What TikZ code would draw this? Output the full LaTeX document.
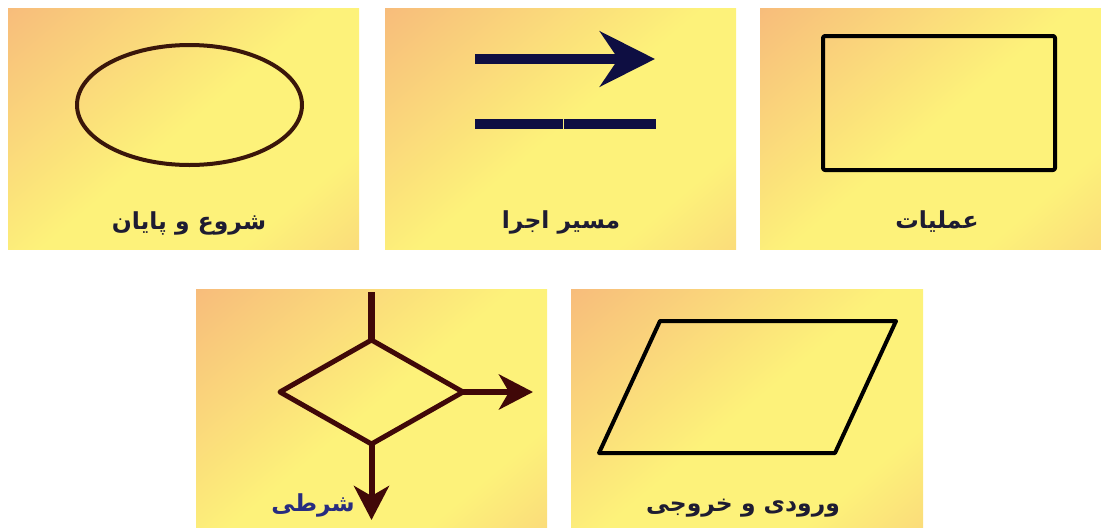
\documentclass[tikz,border=0pt]{standalone}
\usepackage{fontspec}
\newfontfamily\farsi[Script=Arabic]{DejaVu Sans}
\TeXXeTstate=1
\usetikzlibrary{arrows.meta,shapes.geometric,positioning}

\definecolor{panelorange}{RGB}{245,166,124}
\definecolor{panelyellow}{RGB}{253,242,122}
\definecolor{panelpeach}{RGB}{248,196,122}
\definecolor{inkbrown}{RGB}{58,22,10}
\definecolor{inknavy}{RGB}{14,14,66}
\definecolor{inkmaroon}{RGB}{64,8,8}
\definecolor{captionink}{RGB}{30,28,50}
\definecolor{captionblue}{RGB}{40,44,128}

\pgfdeclarehorizontalshading{panelglow}{100bp}{color(0bp)=(panelorange); color(50bp)=(panelyellow); color(72bp)=(panelyellow); color(100bp)=(panelpeach)}

\def\px{0.03cm}

\tikzset{
    panel/.style={shade, shading=panelglow, shading angle=-50},
    caption/.style={font=\farsi\bfseries\fontsize{20}{24}\selectfont, text=captionink, inner sep=0pt},
    outline/.style={draw=#1, line width=4*\px, line join=round, inner sep=0pt, outer sep=0pt},
    outline/.default=black,
    runline/.style={draw=inknavy, line width=10*\px},
    condline/.style={draw=inkmaroon, line width=6*\px},
    condtip/.style={-{Stealth[length=1.02cm, width=1.05cm, inset=0.3cm]}}
}

\begin{document}
\begin{tikzpicture}[x=\px, y=-\px]
    \useasboundingbox (0,0) rectangle (1101,527);

    \foreach \xa/\ya/\xb/\yb in {8/8/359/249, 385/8/736/249, 760/8/1101/249, 196/289/547/527, 571/289/923/527} {
        \path[panel] (\xa,\ya) rectangle (\xb,\yb);
    }

    % start / end
    \node[ellipse, outline=inkbrown, minimum width=225*\px, minimum height=120*\px] (startend) at (189.5,105) {};
    \node[caption] (startendtext) at (189,223) {\beginR شروع و پایان\endR};

    % flow
    \coordinate (runfrom) at (475,59);
    \coordinate (runto) at (655,59);
    \draw[runline, -{Stealth[length=1.65cm, width=1.65cm, inset=0.55cm]}] (runfrom) -- (runto);
    \coordinate (pathleft) at (475,124);
    \coordinate (pathmid) at (563,124);
    \coordinate (pathright) at (656,124);
    \draw[runline] (pathleft) -- ([xshift=-0.5*\px]pathmid);
    \draw[runline] ([xshift=0.5*\px]pathmid) -- (pathright);
    \node[caption] (runtext) at (561,222) {\beginR مسیر اجرا\endR};

    % process
    \node[rectangle, outline, rounded corners=2*\px, minimum width=232*\px, minimum height=134*\px] (process) at (939,103) {};
    \node[caption] (processtext) at (937,222) {\beginR عملیات\endR};

    % condition
    \node[diamond, outline=inkmaroon, line width=5*\px, minimum width=183*\px, minimum height=104*\px] (test) at (371.5,392) {};
    \coordinate (testin) at (371.5,292);
    \coordinate (testyes) at (533,392);
    \coordinate (testno) at (371.5,520);
    \draw[condline, line width=7*\px] (testin) -- (test.north);
    \draw[condline, condtip] (test.east) -- (testyes);
    \draw[condline, condtip] (test.south) -- (testno);
    \node[caption, text=captionblue] (testtext) at (313,505) {\beginR شرطی\endR};

    % input / output
    \coordinate (io1) at (599,453);
    \coordinate (io2) at (660,321);
    \coordinate (io3) at (896,321);
    \coordinate (io4) at (835,453);
    \draw[outline] (io1) -- (io2) -- (io3) -- (io4) -- cycle;
    \node[caption] (inouttext) at (743,508) {\beginR ورودی و خروجی\endR};
\end{tikzpicture}
\end{document}
